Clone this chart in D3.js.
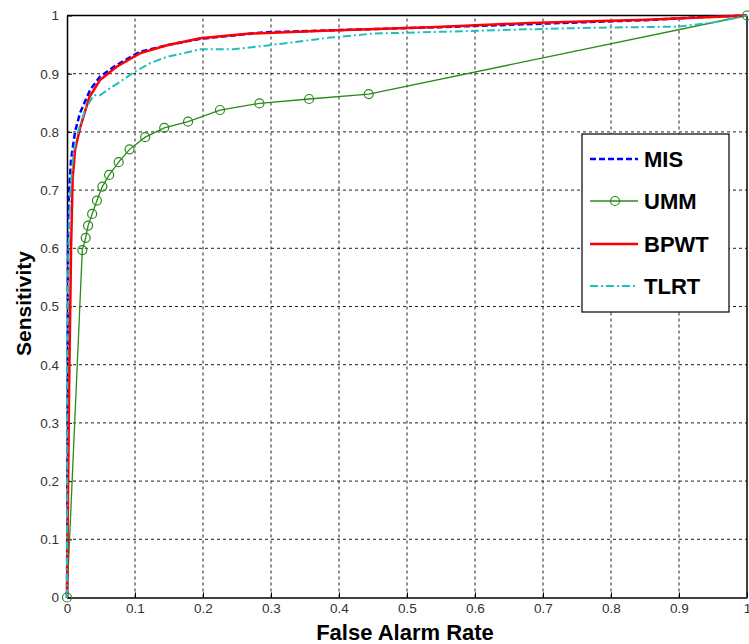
<!DOCTYPE html>
<html>
<head>
<meta charset="utf-8">
<script src="https://cdn.jsdelivr.net/npm/d3@7"></script>
<style>
  body { margin: 0; background: #fff; }
  text { font-family: Arial, "Liberation Sans", sans-serif; }
</style>
</head>
<body>
<div id="chart"></div>
<script>
const width = 749;
const height = 644;
const margin = { top: 15.5, right: 2, bottom: 46.5, left: 67 };

// ROC data
const misX = [0, 0.001, 0.0015, 0.002, 0.003, 0.006, 0.0118, 0.019, 0.034, 0.0485, 0.073, 0.107, 0.147, 0.196, 0.289, 0.4, 0.55, 0.7, 0.85, 0.93, 1];
const misY = [0, 0.35, 0.6, 0.66, 0.70, 0.752, 0.80, 0.832, 0.872, 0.895, 0.915, 0.9375, 0.949, 0.96, 0.971, 0.975, 0.98, 0.986, 0.992, 0.997, 1];

const ummX = [0, 0.0225, 0.0275, 0.031, 0.037, 0.044, 0.052, 0.062, 0.076, 0.092, 0.115, 0.143, 0.178, 0.225, 0.283, 0.356, 0.4437, 1];
const ummY = [0, 0.597, 0.618, 0.639, 0.659, 0.682, 0.706, 0.726, 0.748, 0.770, 0.791, 0.807, 0.8175, 0.8376, 0.849, 0.8565, 0.865, 1];

const bpwtX = [0, 0.001, 0.002, 0.003, 0.006, 0.0083, 0.012, 0.019, 0.033, 0.0485, 0.073, 0.107, 0.147, 0.196, 0.269, 0.397, 0.534, 0.68, 0.852, 1];
const bpwtY = [0, 0.12, 0.23, 0.35, 0.6, 0.72, 0.77, 0.806, 0.86, 0.889, 0.912, 0.935, 0.949, 0.961, 0.969, 0.9745, 0.98, 0.987, 0.9925, 1];

const tlrtX = [0, 0.0005, 0.002, 0.005, 0.009, 0.014, 0.0265, 0.039, 0.0485, 0.063, 0.078, 0.0975, 0.122, 0.147, 0.171, 0.196, 0.245, 0.2985, 0.387, 0.45, 0.583, 0.7, 0.779, 0.9, 0.95, 1];
const tlrtY = [0, 0.4, 0.6, 0.7, 0.76, 0.792, 0.8376, 0.863, 0.863, 0.875, 0.886, 0.9017, 0.918, 0.929, 0.935, 0.942, 0.942, 0.949, 0.962, 0.969, 0.973, 0.977, 0.979, 0.981, 0.988, 1];

const tickVals = [0, 0.1, 0.2, 0.3, 0.4, 0.5, 0.6, 0.7, 0.8, 0.9, 1];
const tickLabels = ["0", "0.1", "0.2", "0.3", "0.4", "0.5", "0.6", "0.7", "0.8", "0.9", "1"];

const seriesNames = ["MIS", "UMM", "BPWT", "TLRT"];

const svg = d3.select("#chart")
  .append("svg")
  .attr("width", width)
  .attr("height", height);

const xScale = d3.scaleLinear().domain([0, 1]).range([margin.left, width - margin.right]);
const yScale = d3.scaleLinear().domain([0, 1]).range([height - margin.bottom, margin.top]);

// grid
const grid = svg.append("g").attr("class", "grid");
grid.selectAll(".gx")
  .data(tickVals.slice(1, -1))
  .enter()
  .append("line")
  .attr("x1", d => xScale(d)).attr("x2", d => xScale(d))
  .attr("y1", yScale(0)).attr("y2", yScale(1))
  .attr("stroke", "#222").attr("stroke-width", 1).attr("stroke-dasharray", "3,3");
grid.selectAll(".gy")
  .data(tickVals.slice(1, -1))
  .enter()
  .append("line")
  .attr("y1", d => yScale(d)).attr("y2", d => yScale(d))
  .attr("x1", xScale(0)).attr("x2", xScale(1))
  .attr("stroke", "#222").attr("stroke-width", 1).attr("stroke-dasharray", "3,3");

// axes
const xAxis = d3.axisBottom(xScale).tickValues(tickVals).tickFormat((d, i) => tickLabels[i]).tickSizeInner(-5).tickSizeOuter(0).tickPadding(6);
const yAxis = d3.axisLeft(yScale).tickValues(tickVals).tickFormat((d, i) => tickLabels[i]).tickSizeInner(-5).tickSizeOuter(0).tickPadding(8);

const gx = svg.append("g")
  .attr("transform", "translate(0," + yScale(0) + ")")
  .call(xAxis);
const gy = svg.append("g")
  .attr("transform", "translate(" + xScale(0) + ",0)")
  .call(yAxis);
[gx, gy].forEach(g => {
  g.select(".domain").attr("stroke", "#000").attr("stroke-width", 1.5);
  g.selectAll("text").attr("font-size", 13.5).attr("fill", "#333").style("font-family", "Arial, 'Liberation Sans', sans-serif");
});

// box top & right
svg.append("line")
  .attr("x1", xScale(0)).attr("x2", xScale(1))
  .attr("y1", yScale(1)).attr("y2", yScale(1))
  .attr("stroke", "#000").attr("stroke-width", 1.5);
svg.append("line")
  .attr("x1", xScale(1)).attr("x2", xScale(1))
  .attr("y1", yScale(0)).attr("y2", yScale(1))
  .attr("stroke", "#000").attr("stroke-width", 1.5);

// axis titles
svg.append("text")
  .attr("x", xScale(0.5) - 2)
  .attr("y", 640)
  .attr("text-anchor", "middle")
  .attr("font-size", 22)
  .attr("font-weight", "bold")
  .text("False Alarm Rate");

svg.append("text")
  .attr("transform", "translate(31," + (yScale(0.5) - 3) + ") rotate(-90)")
  .attr("text-anchor", "middle")
  .attr("font-size", 21)
  .attr("font-weight", "bold")
  .text("Sensitivity");

// curves
const line = d3.line().x(d => xScale(d[0])).y(d => yScale(d[1]));
const zipXY = (xs, ys) => xs.map((x, i) => [x, ys[i]]);

const styles = {
  MIS: { color: "#0000ff", width: 2.5, dash: "6,3" },
  UMM: { color: "#2a8a1a", width: 1.3, dash: null },
  BPWT: { color: "#ff0000", width: 2.5, dash: null },
  TLRT: { color: "#1fbfbf", width: 2, dash: "8,3,2,3" }
};

const dataSets = {
  MIS: zipXY(misX, misY),
  UMM: zipXY(ummX, ummY),
  BPWT: zipXY(bpwtX, bpwtY),
  TLRT: zipXY(tlrtX, tlrtY)
};

seriesNames.forEach(name => {
  const s = styles[name];
  svg.append("path")
    .datum(dataSets[name])
    .attr("d", line)
    .attr("fill", "none")
    .attr("stroke", s.color)
    .attr("stroke-width", s.width)
    .attr("stroke-dasharray", s.dash);
});

svg.selectAll(".umm-marker")
  .data(dataSets.UMM)
  .enter()
  .append("circle")
  .attr("cx", d => xScale(d[0]))
  .attr("cy", d => yScale(d[1]))
  .attr("r", 4.5)
  .attr("fill", "none")
  .attr("stroke", styles.UMM.color)
  .attr("stroke-width", 1.2);

// legend
const legend = svg.append("g");
legend.append("rect")
  .attr("x", 582).attr("y", 134)
  .attr("width", 147).attr("height", 178)
  .attr("fill", "#fff")
  .attr("stroke", "#000").attr("stroke-width", 1.2);

const legendY = [159, 201, 244, 286];
seriesNames.forEach((name, i) => {
  const s = styles[name];
  legend.append("line")
    .attr("x1", 590).attr("x2", 638)
    .attr("y1", legendY[i]).attr("y2", legendY[i])
    .attr("stroke", s.color)
    .attr("stroke-width", name === "UMM" ? 1.3 : s.width)
    .attr("stroke-dasharray", s.dash);
  if (name === "UMM") {
    legend.append("circle")
      .attr("cx", 615).attr("cy", legendY[i]).attr("r", 4.5)
      .attr("fill", "none").attr("stroke", s.color).attr("stroke-width", 1.2);
  }
  legend.append("text")
    .attr("x", 644).attr("y", legendY[i] + 8)
    .attr("font-size", 22)
    .attr("font-weight", "bold")
    .text(name);
});
</script>
</body>
</html>
